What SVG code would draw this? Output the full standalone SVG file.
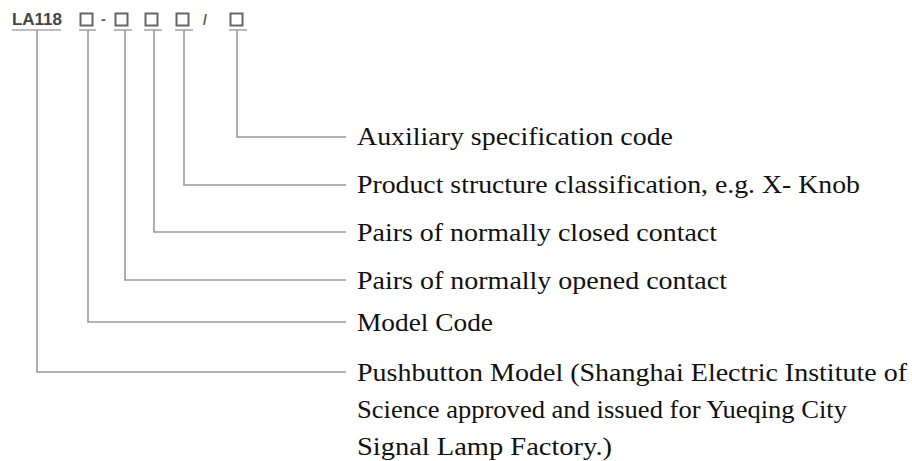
<svg xmlns="http://www.w3.org/2000/svg" width="912" height="461" viewBox="0 0 912 461">
<style>
.bg{fill:#fff}
.conn{fill:none;stroke:#9a9a9a;stroke-width:1.6}
.ul{fill:none;stroke:#a8a8a8;stroke-width:1.6}
.box{fill:none;stroke:#666;stroke-width:2}
.code{font-family:"Liberation Sans",Arial,sans-serif;font-weight:bold;font-size:16px;fill:#444}
.sym{font-family:"Liberation Sans",Arial,sans-serif;font-weight:bold;font-size:14px;fill:#555}
.lbl{font-family:"Liberation Serif","Times New Roman",serif;font-size:25px;fill:#111}
</style>
<rect class="bg" x="0" y="0" width="912" height="461"/>
<g id="header">
  <text class="code" x="12" y="25" textLength="50" lengthAdjust="spacingAndGlyphs">LA118</text>
  <rect class="box" x="80.5" y="13.5" width="12" height="12"/>
  <text class="sym" x="101" y="24">-</text>
  <rect class="box" x="115.5" y="13.5" width="12" height="12"/>
  <rect class="box" x="145.5" y="13.5" width="12" height="12"/>
  <rect class="box" x="176.5" y="13.5" width="12" height="12"/>
  <text class="sym" x="203" y="25">/</text>
  <rect class="box" x="230.5" y="13.5" width="12" height="12"/>
  <line class="ul" x1="12" y1="30" x2="61" y2="30"/>
  <line class="ul" x1="79" y1="30" x2="96" y2="30"/>
  <line class="ul" x1="114" y1="30" x2="132" y2="30"/>
  <line class="ul" x1="144" y1="30" x2="162" y2="30"/>
  <line class="ul" x1="175" y1="30" x2="193" y2="30"/>
  <line class="ul" x1="229" y1="30" x2="247" y2="30"/>
</g>
<g id="connectors">
  <polyline class="conn" points="237,30 237,137 346,137"/>
  <polyline class="conn" points="184,30 184,185 346,185"/>
  <polyline class="conn" points="154,30 154,232 346,232"/>
  <polyline class="conn" points="125,30 125,280 346,280"/>
  <polyline class="conn" points="88,30 88,322 346,322"/>
  <polyline class="conn" points="37,30 37,372 346,372"/>
</g>
<g id="aux"><text class="lbl" x="357" y="145" textLength="316" lengthAdjust="spacingAndGlyphs">Auxiliary specification code</text></g>
<g id="product"><text class="lbl" x="357" y="193" textLength="503" lengthAdjust="spacingAndGlyphs">Product structure classification, e.g. X- Knob</text></g>
<g id="closed"><text class="lbl" x="357" y="241" textLength="360" lengthAdjust="spacingAndGlyphs">Pairs of normally closed contact</text></g>
<g id="opened"><text class="lbl" x="357" y="289" textLength="370" lengthAdjust="spacingAndGlyphs">Pairs of normally opened contact</text></g>
<g id="model"><text class="lbl" x="357" y="331" textLength="136" lengthAdjust="spacingAndGlyphs">Model Code</text></g>
<g id="pushbutton">
  <text class="lbl" x="357" y="381" textLength="550" lengthAdjust="spacingAndGlyphs">Pushbutton Model (Shanghai Electric Institute of</text>
  <text class="lbl" x="357" y="418" textLength="490" lengthAdjust="spacingAndGlyphs">Science approved and issued for Yueqing City</text>
  <text class="lbl" x="357" y="455" textLength="255" lengthAdjust="spacingAndGlyphs">Signal Lamp Factory.)</text>
</g>
</svg>
